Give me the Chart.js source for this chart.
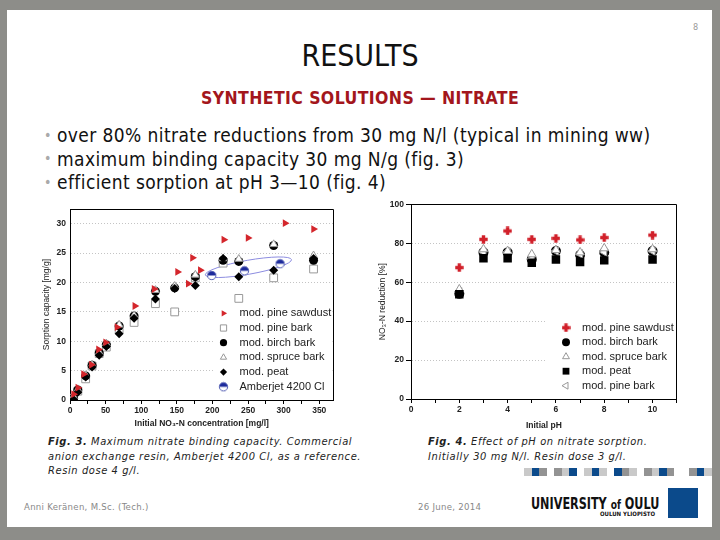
<!DOCTYPE html>
<html>
<head>
<meta charset="utf-8">
<script src="https://cdn.jsdelivr.net/npm/chart.js@4.4.1/dist/chart.umd.min.js"></script>
<style>
  body { margin:0; width:720px; height:540px; background:#8d8d89; position:relative; overflow:hidden;
         font-family:"DejaVu Sans Condensed","DejaVu Sans",sans-serif; }
  #slide { position:absolute; left:7px; top:10px; width:705px; height:517px; background:#fff; }
  .t { position:absolute; white-space:nowrap; line-height:1; }
  .bul { position:absolute; white-space:nowrap; line-height:1; left:57px; font-size:19px; letter-spacing:0.4px; color:#111; }
  .cap { position:absolute; white-space:nowrap; font-style:italic; font-size:11px; line-height:14.5px; color:#222; letter-spacing:0.6px; }
  .cap b { font-weight:bold; }
  canvas { position:absolute; }
  .sq { position:absolute; top:468px; height:8px; }
</style>
</head>
<body>
<div id="slide"></div>
<div class="t" style="left:693px;top:23px;font-size:9px;color:#999">8</div>
<div class="t" style="left:0;width:720px;text-align:center;top:41px;font-size:30px;color:#111">RESULTS</div>
<div class="t" style="left:0;width:720px;text-align:center;top:90px;font-size:17.5px;font-weight:bold;color:#a3161c;letter-spacing:0.4px">SYNTHETIC SOLUTIONS — NITRATE</div>

<div class="t" style="left:44px;top:128px;font-size:14px;color:#aaa">•</div>
<div class="t" style="left:44px;top:151px;font-size:14px;color:#aaa">•</div>
<div class="t" style="left:44px;top:175px;font-size:14px;color:#aaa">•</div>
<div class="bul" style="top:126px">over 80% nitrate reductions from 30 mg N/l (typical in mining ww)</div>
<div class="bul" style="top:149.5px">maximum binding capacity 30 mg N/g (fig. 3)</div>
<div class="bul" style="top:173px">efficient sorption at pH 3—10 (fig. 4)</div>

<canvas id="fig3" width="310" height="232" style="left:30px;top:200px"></canvas>
<canvas id="fig4" width="315" height="237" style="left:370px;top:195px"></canvas>

<div class="cap" style="left:48px;top:435px"><b>Fig. 3.</b> Maximum nitrate binding capacity. Commercial<br>anion exchange resin, Amberjet 4200 Cl, as a reference.<br>Resin dose 4 g/l.</div>
<div class="cap" style="left:428px;top:435px"><b>Fig. 4.</b> Effect of pH on nitrate sorption.<br>Initially 30 mg N/l. Resin dose 3 g/l.</div>

<div id="squares"></div>
<div class="t" style="left:24px;top:502px;font-size:9.5px;color:#888;letter-spacing:0.3px">Anni Keränen, M.Sc. (Tech.)</div>
<div class="t" style="left:418px;top:502px;font-size:9.5px;color:#888;letter-spacing:0.3px">26 June, 2014</div>
<div class="t" style="left:531px;top:496px;font-size:16px;font-weight:bold;color:#111;transform:scaleX(0.78);transform-origin:0 0">UNIVERSITY <span style="font-size:13px">of</span> OULU</div>
<div class="t" style="left:600px;top:511px;font-size:6px;font-weight:bold;color:#111">OULUN YLIOPISTO</div>
<div style="position:absolute;left:668px;top:488px;width:30px;height:30px;background:#0b4a8b"></div>

<script>
// ---- Fig. 3: sorption capacity [mg/g] vs initial NO3-N concentration [mg/l]
const concSawdust = [5, 11, 19, 30, 40, 50, 66, 91, 118, 151, 166, 172, 183, 216, 250, 302, 342];
const capSawdust  = [1.0, 2.1, 4.4, 6.0, 8.6, 9.8, 12.4, 16.0, 18.9, 21.8, 19.8, 24.2, 22.1, 27.3, 27.6, 30.1, 29.1];
const concBark     = [5, 11, 22, 31, 41, 51, 69, 90, 120, 147, 176, 215, 237, 286, 342];
const capPineBark  = [0.3, 1.5, 3.6, 5.8, 7.9, 9.0, 12.0, 13.2, 16.4, 15.0, 20.8, 23.3, 17.3, 20.8, 22.3];
const capBirch     = [0.3, 1.7, 4.1, 5.9, 8.0, 9.4, 12.6, 14.3, 18.5, 19.1, 21.0, 23.8, 23.6, 26.3, 23.8];
const capSpruce    = [0.6, 1.8, 4.2, 6.0, 8.1, 9.6, 12.8, 14.4, 18.7, 19.4, 21.3, 24.1, 24.0, 26.5, 24.6];
const capPeat      = [0.1, 1.3, 3.9, 5.6, 7.6, 9.1, 11.3, 13.9, 17.2, 19.0, 19.5, 24.1, 21.0, 22.1, 24.1];
const concAmberjet = [199, 245, 295];
const capAmberjet  = [21.2, 22.0, 23.2];
const fig3XTicks = [0, 50, 100, 150, 200, 250, 300, 350];
const fig3YTicks = [0, 5, 10, 15, 20, 25, 30];

// ---- Fig. 4: NO3-N reduction [%] vs initial pH
const pH = [2, 3, 4, 5, 6, 7, 8, 10];
const redSawdust  = [67.5, 82.0, 86.3, 82.0, 82.5, 81.7, 82.9, 84.2];
const redBirch    = [54.0, 75.3, 75.3, 71.7, 76.0, 74.0, 75.2, 76.0];
const redSpruce   = [56.3, 76.9, 76.0, 74.3, 76.5, 75.3, 77.4, 76.9];
const redPeat     = [53.8, 72.3, 72.3, 70.0, 71.6, 70.4, 71.2, 71.6];
const redPineBark = [55.0, 75.5, 75.5, 72.0, 76.0, 74.5, 75.5, 76.0];
const fig4XTicks = [0, 2, 4, 6, 8, 10];
const fig4YTicks = [0, 20, 40, 60, 80, 100];

const pts = (xs, ys) => xs.map((x, i) => ({x: x, y: ys[i]}));

// decorative strip above the logo
const strip = 'LBG.GLB.LBL.BGL.GLBG..GBL';
const stripColors = {L: '#c9c9c9', B: '#0b4a8b', G: '#939393'};
strip.split('').forEach((k, i) => {
  if (k === '.') return;
  const d = document.createElement('div');
  d.className = 'sq';
  d.style.left = (524 + i * 7.5) + 'px';
  d.style.width = '7.5px';
  d.style.background = stripColors[k];
  document.getElementById('squares').appendChild(d);
});

function markerCanvas(size, paint) {
  const c = document.createElement('canvas');
  c.width = size; c.height = size;
  paint(c.getContext('2d'), size / 2);
  return c;
}
const halfDisc = markerCanvas(11, (g, m) => {
  g.beginPath(); g.arc(m, m, 4.2, 0, Math.PI * 2); g.fillStyle = '#fff'; g.fill();
  g.beginPath(); g.arc(m, m, 4.2, Math.PI, 0); g.closePath(); g.fillStyle = '#1c2a9c'; g.fill();
  g.beginPath(); g.arc(m, m, 4.2, 0, Math.PI * 2); g.strokeStyle = '#5560b4'; g.lineWidth = 1; g.stroke();
});
const redPlus = markerCanvas(9, (g, m) => {
  g.fillStyle = '#d1202a';
  g.fillRect(m - 1.7, m - 4.2, 3.4, 8.4);
  g.fillRect(m - 4.2, m - 1.7, 8.4, 3.4);
});

Chart.defaults.font.family = '"Liberation Sans", Arial, sans-serif';
Chart.defaults.color = '#222';

// legend drawn inside the plot, bottom right, on a white box
const boxLegend = {
  id: 'boxLegend',
  beforeDatasetsDraw(chart, args, o) {
    const {ctx, chartArea: a} = chart;
    ctx.save();
    ctx.fillStyle = '#fff';
    ctx.fillRect(a.right - o.boxLeft, a.bottom - o.boxTop, o.boxLeft - 1, o.boxTop - 1);
    ctx.font = '11px "Liberation Sans", Arial, sans-serif';
    ctx.textBaseline = 'middle';
    chart.data.datasets.forEach((ds, i) => {
      const x = a.right - o.marker, y = a.bottom - o.first + i * o.gap;
      ctx.fillStyle = ds.pointBackgroundColor;
      ctx.strokeStyle = ds.pointBorderColor;
      ctx.lineWidth = ds.pointBorderWidth;
      const opts = {pointStyle: ds.pointStyle, rotation: ds.pointRotation || 0,
                    radius: ds.pointRadius * 0.8, borderWidth: ds.pointBorderWidth};
      if (Chart.helpers && Chart.helpers.drawPoint) Chart.helpers.drawPoint(ctx, opts, x, y);
      ctx.fillStyle = '#222';
      ctx.fillText(ds.label, x + 16, y);
    });
    ctx.restore();
  }
};

// top and right edges of the plot box
const frame = {
  id: 'frame',
  afterDraw(chart) {
    const {ctx, chartArea: a} = chart;
    ctx.save();
    ctx.strokeStyle = '#000';
    ctx.lineWidth = 1;
    ctx.beginPath();
    ctx.moveTo(Math.round(a.left) + 0.5, Math.round(a.top) + 0.5);
    ctx.lineTo(Math.round(a.right) - 0.5, Math.round(a.top) + 0.5);
    ctx.lineTo(Math.round(a.right) - 0.5, Math.round(a.bottom));
    ctx.stroke();
    ctx.restore();
  }
};

// ellipse drawn round the Amberjet points
const ring = {
  id: 'ring',
  beforeDatasetsDraw(chart, args, o) {
    if (!o.from) return;
    const {ctx, scales: {x, y}} = chart;
    const x1 = x.getPixelForValue(o.from[0]), y1 = y.getPixelForValue(o.from[1]);
    const x2 = x.getPixelForValue(o.to[0]), y2 = y.getPixelForValue(o.to[1]);
    ctx.save();
    ctx.strokeStyle = '#8c8ce0';
    ctx.lineWidth = 1;
    ctx.beginPath();
    ctx.ellipse((x1 + x2) / 2, (y1 + y2) / 2, Math.hypot(x2 - x1, y2 - y1) / 2, o.half,
                Math.atan2(y2 - y1, x2 - x1), 0, Math.PI * 2);
    ctx.stroke();
    ctx.restore();
  }
};

const tickFont = {size: 8.5, weight: 'bold'};

new Chart(document.getElementById('fig3'), {
  type: 'scatter',
  data: {
    datasets: [
      {label: 'mod. pine sawdust', data: pts(concSawdust, capSawdust), pointStyle: 'triangle', pointRotation: 90,
       pointRadius: 4.5, pointBackgroundColor: '#d4262c', pointBorderColor: '#d4262c', pointBorderWidth: 0, order: 1},
      {label: 'mod. pine bark', data: pts(concBark, capPineBark), pointStyle: 'rect',
       pointRadius: 5.5, pointBackgroundColor: '#fff', pointBorderColor: '#999', pointBorderWidth: 1, order: 6},
      {label: 'mod. birch bark', data: pts(concBark, capBirch), pointStyle: 'circle',
       pointRadius: 4.5, pointBackgroundColor: '#000', pointBorderColor: '#000', pointBorderWidth: 0, order: 5},
      {label: 'mod. spruce bark', data: pts(concBark, capSpruce), pointStyle: 'triangle',
       pointRadius: 4.5, pointBackgroundColor: '#fff', pointBorderColor: '#999', pointBorderWidth: 1, order: 4},
      {label: 'mod. peat', data: pts(concBark, capPeat), pointStyle: 'rectRot',
       pointRadius: 4.5, pointBackgroundColor: '#000', pointBorderColor: '#000', pointBorderWidth: 0, order: 3},
      {label: 'Amberjet 4200 Cl', data: pts(concAmberjet, capAmberjet), pointStyle: halfDisc,
       pointRadius: 4.5, pointBackgroundColor: '#1c2a9c', pointBorderColor: '#1c2a9c', pointBorderWidth: 0, order: 2}
    ]
  },
  options: {
    responsive: false,
    animation: false,
    layout: {padding: {top: 6.5, right: 5, left: 0, bottom: 0}},
    plugins: {
      legend: {display: false},
      tooltip: {enabled: false},
      boxLegend: {boxLeft: 120, boxTop: 96, marker: 110, first: 86.7, gap: 14.7},
      ring: {from: [190, 21.3], to: [311, 23.9], half: 7}
    },
    scales: {
      x: {
        type: 'linear', min: 0, max: 370,
        afterFit: s => { s.height = 32; },
        ticks: {stepSize: 25, includeBounds: false, autoSkip: false, maxRotation: 0, padding: 2, font: tickFont,
                callback: v => fig3XTicks.includes(v) ? v : ''},
        grid: {drawOnChartArea: false, tickLength: 4, tickColor: '#000'},
        border: {color: '#000'},
        title: {display: true, text: 'Initial NO₃-N concentration [mg/l]', font: {size: 8.5, weight: 'bold'},
                padding: {top: 0, bottom: 3}}
      },
      y: {
        min: 0, max: 32.5,
        afterFit: s => { s.width = 40; },
        ticks: {stepSize: 5, includeBounds: false, padding: 4, font: tickFont,
                callback: v => fig3YTicks.includes(v) ? v : ''},
        grid: {drawTicks: false,
               color: c => (c.tick && c.tick.value > 0) ? '#c4c4c4' : 'transparent'},
        border: {color: '#000', dash: [1, 2]},
        title: {display: true, text: 'Sorption capacity [mg/g]', font: {size: 8.5}, padding: {top: 11.5, bottom: 0}}
      }
    }
  },
  plugins: [boxLegend, frame, ring]
});

new Chart(document.getElementById('fig4'), {
  type: 'scatter',
  data: {
    datasets: [
      {label: 'mod. pine sawdust', data: pts(pH, redSawdust), pointStyle: redPlus,
       pointRadius: 4.5, pointBackgroundColor: '#d1202a', pointBorderColor: '#d1202a', pointBorderWidth: 0, order: 1},
      {label: 'mod. birch bark', data: pts(pH, redBirch), pointStyle: 'circle',
       pointRadius: 5, pointBackgroundColor: '#000', pointBorderColor: '#000', pointBorderWidth: 0, order: 5},
      {label: 'mod. spruce bark', data: pts(pH, redSpruce), pointStyle: 'triangle',
       pointRadius: 5, pointBackgroundColor: '#fff', pointBorderColor: '#999', pointBorderWidth: 1, order: 3},
      {label: 'mod. peat', data: pts(pH, redPeat), pointStyle: 'rect',
       pointRadius: 6, pointBackgroundColor: '#000', pointBorderColor: '#000', pointBorderWidth: 0, order: 2},
      {label: 'mod. pine bark', data: pts(pH, redPineBark), pointStyle: 'triangle', pointRotation: -90,
       pointRadius: 5, pointBackgroundColor: '#fff', pointBorderColor: '#999', pointBorderWidth: 1, order: 4}
    ]
  },
  options: {
    responsive: false,
    animation: false,
    layout: {padding: {top: 9.3, right: 8.3, left: 0, bottom: 0}},
    plugins: {
      legend: {display: false},
      tooltip: {enabled: false},
      boxLegend: {boxLeft: 131.7, boxTop: 81, marker: 110.7, first: 71.3, gap: 14.5}
    },
    scales: {
      x: {
        type: 'linear', min: 0, max: 11,
        afterFit: s => { s.height = 33; },
        ticks: {stepSize: 1, includeBounds: false, autoSkip: false, maxRotation: 0, padding: 2, font: tickFont,
                callback: v => fig4XTicks.includes(v) ? v : ''},
        grid: {drawOnChartArea: false, tickLength: 4, tickColor: '#000'},
        border: {color: '#000'},
        title: {display: true, text: 'Initial pH', font: {size: 8.5, weight: 'bold'}, padding: {top: 0, bottom: 1}}
      },
      y: {
        min: 0, max: 100,
        afterFit: s => { s.width = 41; },
        ticks: {stepSize: 20, padding: 2, font: tickFont,
                callback: v => fig4YTicks.includes(v) ? v : ''},
        grid: {tickLength: 5, tickColor: '#000',
               color: c => (c.tick && c.tick.value > 0 && c.tick.value < 100) ? '#c4c4c4' : 'transparent'},
        border: {color: '#000', dash: [1, 2]},
        title: {display: true, text: 'NO₃-N reduction [%]', font: {size: 8.5}, padding: {top: 7.6, bottom: 0}}
      }
    }
  },
  plugins: [boxLegend, frame]
});
</script>
</body>
</html>
